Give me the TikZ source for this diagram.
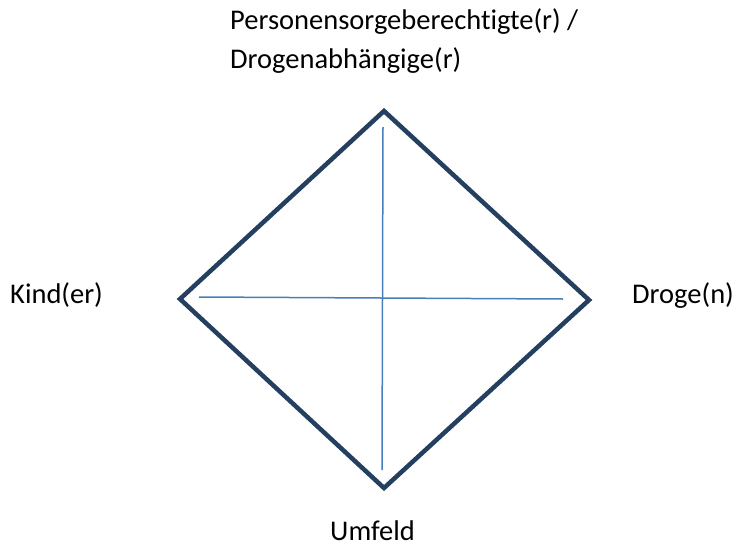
\documentclass[tikz,border=0pt]{standalone}
\usepackage{fontspec}
\setmainfont[Ligatures=NoCommon]{Carlito}
\definecolor{framecol}{HTML}{243F60}
\definecolor{crosscol}{HTML}{4A7EBB}
\begin{document}
\begin{tikzpicture}[x=1pt,y=-1pt,
  lbl/.style={inner sep=0pt,anchor=base west,font=\fontsize{28.5}{39}\selectfont,align=left},
  frame/.style={draw=framecol,line width=4.5pt,line join=miter},
  cross/.style={draw=crosscol,line width=1.5pt}]
\useasboundingbox (0,0) rectangle (739,544);
\coordinate (T) at (384,111);
\coordinate (R) at (589,300);
\coordinate (B) at (384,488);
\coordinate (L) at (180,299);
\draw[frame] (T) -- (R) -- (B) -- (L) -- cycle;
\coordinate (vt) at (383,127);
\coordinate (vb) at (382,470);
\coordinate (hl) at (199,297);
\coordinate (hr) at (563,299);
\draw[cross] (vt) -- (vb);
\draw[cross] (hl) -- (hr);
\node[lbl] (top) at (230,68) {Personensorgeberechtigte(r) /\\Drogenabhängige(r)};
\node[lbl] (kind) at (10,303) {Kind(er)};
\node[lbl] (droge) at (632,303) {Droge(n)};
\node[lbl] (umfeld) at (330,540) {Umfeld};
\end{tikzpicture}
\end{document}
